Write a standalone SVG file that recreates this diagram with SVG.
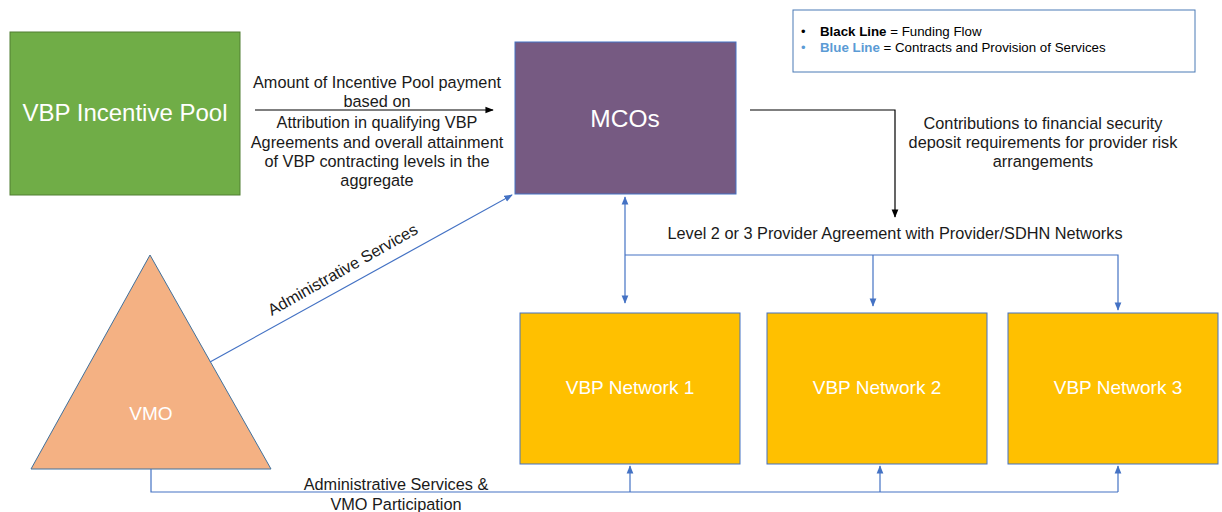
<svg xmlns="http://www.w3.org/2000/svg" width="1222" height="512" viewBox="0 0 1222 512">
<defs>
<style>
text{font-family:"Liberation Sans",Arial,sans-serif;}
.lbl{font-size:16.3px;fill:#1a1a1a;text-anchor:middle;}
.wt{fill:#ffffff;text-anchor:middle;}
.blue{stroke:#4472C4;stroke-width:1.2;fill:none;}
.black{stroke:#000;stroke-width:1.2;fill:none;}
</style>
<marker id="ab" viewBox="0 0 10 10" refX="9" refY="5" markerWidth="7" markerHeight="7" orient="auto-start-reverse"><path d="M0,1 L10,5 L0,9 z" fill="#4472C4"/></marker>
<marker id="ak" viewBox="0 0 10 10" refX="9" refY="5" markerWidth="7" markerHeight="7" orient="auto"><path d="M0,1 L10,5 L0,9 z" fill="#000"/></marker>
</defs>
<rect width="1222" height="512" fill="#ffffff"/>

<g id="legend">
<rect x="793" y="10" width="402" height="62" fill="#fff" stroke="#4A7AB5" stroke-width="1"/>
<text x="801" y="36" font-size="13" fill="#000">•</text>
<text x="820" y="36" font-size="13.3" fill="#000"><tspan font-weight="bold">Black Line</tspan> = Funding Flow</text>
<text x="801" y="52" font-size="13" fill="#5B9BD5">•</text>
<text x="820" y="52" font-size="13.3" fill="#000"><tspan font-weight="bold" fill="#5B9BD5">Blue Line</tspan> = Contracts and Provision of Services</text>
</g>

<g id="pool">
<rect x="10" y="32" width="230" height="163" fill="#70AD47" stroke="#507E32" stroke-width="1"/>
<text x="125" y="121" class="wt" font-size="24">VBP Incentive Pool</text>
</g>

<g id="mcos">
<rect x="515" y="42" width="221" height="152" fill="#765A82" stroke="#4472C4" stroke-width="1"/>
<text x="625" y="127" class="wt" font-size="24.5">MCOs</text>
</g>

<g id="vmo">
<polygon points="150,255 271,469 31,469" fill="#F4B183" stroke="#41719C" stroke-width="1"/>
<text x="151" y="420" class="wt" font-size="19">VMO</text>
</g>

<g id="net1">
<rect x="520" y="313" width="220" height="151" fill="#FFC000" stroke="#4472C4" stroke-width="1"/>
<text x="630" y="394" class="wt" font-size="19">VBP Network 1</text>
</g>
<g id="net2">
<rect x="767" y="313" width="220" height="151" fill="#FFC000" stroke="#4472C4" stroke-width="1"/>
<text x="877" y="394" class="wt" font-size="19">VBP Network 2</text>
</g>
<g id="net3">
<rect x="1008" y="313" width="210" height="151" fill="#FFC000" stroke="#4472C4" stroke-width="1"/>
<text x="1118" y="394" class="wt" font-size="19">VBP Network 3</text>
</g>

<g id="connectors">
<line x1="255" y1="110" x2="493" y2="110" class="black" marker-end="url(#ak)"/>
<polyline points="750,110 895,110 895,217" class="black" marker-end="url(#ak)"/>
<line x1="210" y1="362" x2="512" y2="195" class="blue" marker-end="url(#ab)"/>
<line x1="625" y1="197" x2="625" y2="303" class="blue" marker-start="url(#ab)" marker-end="url(#ab)"/>
<polyline points="625,255 1118,255 1118,310" class="blue" marker-end="url(#ab)"/>
<line x1="873" y1="255" x2="873" y2="306" class="blue" marker-end="url(#ab)"/>
<polyline points="151,469 151,492 1118,492" class="blue"/>
<line x1="630" y1="492" x2="630" y2="466" class="blue" marker-end="url(#ab)"/>
<line x1="880" y1="492" x2="880" y2="466" class="blue" marker-end="url(#ab)"/>
<line x1="1118" y1="492" x2="1118" y2="466" class="blue" marker-end="url(#ab)"/>
</g>

<g id="labels">
<text class="lbl"><tspan x="377" y="88">Amount of Incentive Pool payment</tspan><tspan x="377" y="107">based on</tspan><tspan x="377" y="128">Attribution in qualifying VBP</tspan><tspan x="377" y="148">Agreements and overall attainment</tspan><tspan x="377" y="167">of VBP contracting levels in the</tspan><tspan x="377" y="186">aggregate</tspan></text>
<text class="lbl"><tspan x="1043" y="129">Contributions to financial security</tspan><tspan x="1043" y="148">deposit requirements for provider risk</tspan><tspan x="1043" y="167">arrangements</tspan></text>
<text x="895" y="239" class="lbl">Level 2 or 3 Provider Agreement with Provider/SDHN Networks</text>
<text x="343" y="275" class="lbl" transform="rotate(-29.5 343 270)">Administrative Services</text>
<text class="lbl"><tspan x="396" y="490">Administrative Services &amp;</tspan><tspan x="396" y="510">VMO Participation</tspan></text>
</g>
</svg>
